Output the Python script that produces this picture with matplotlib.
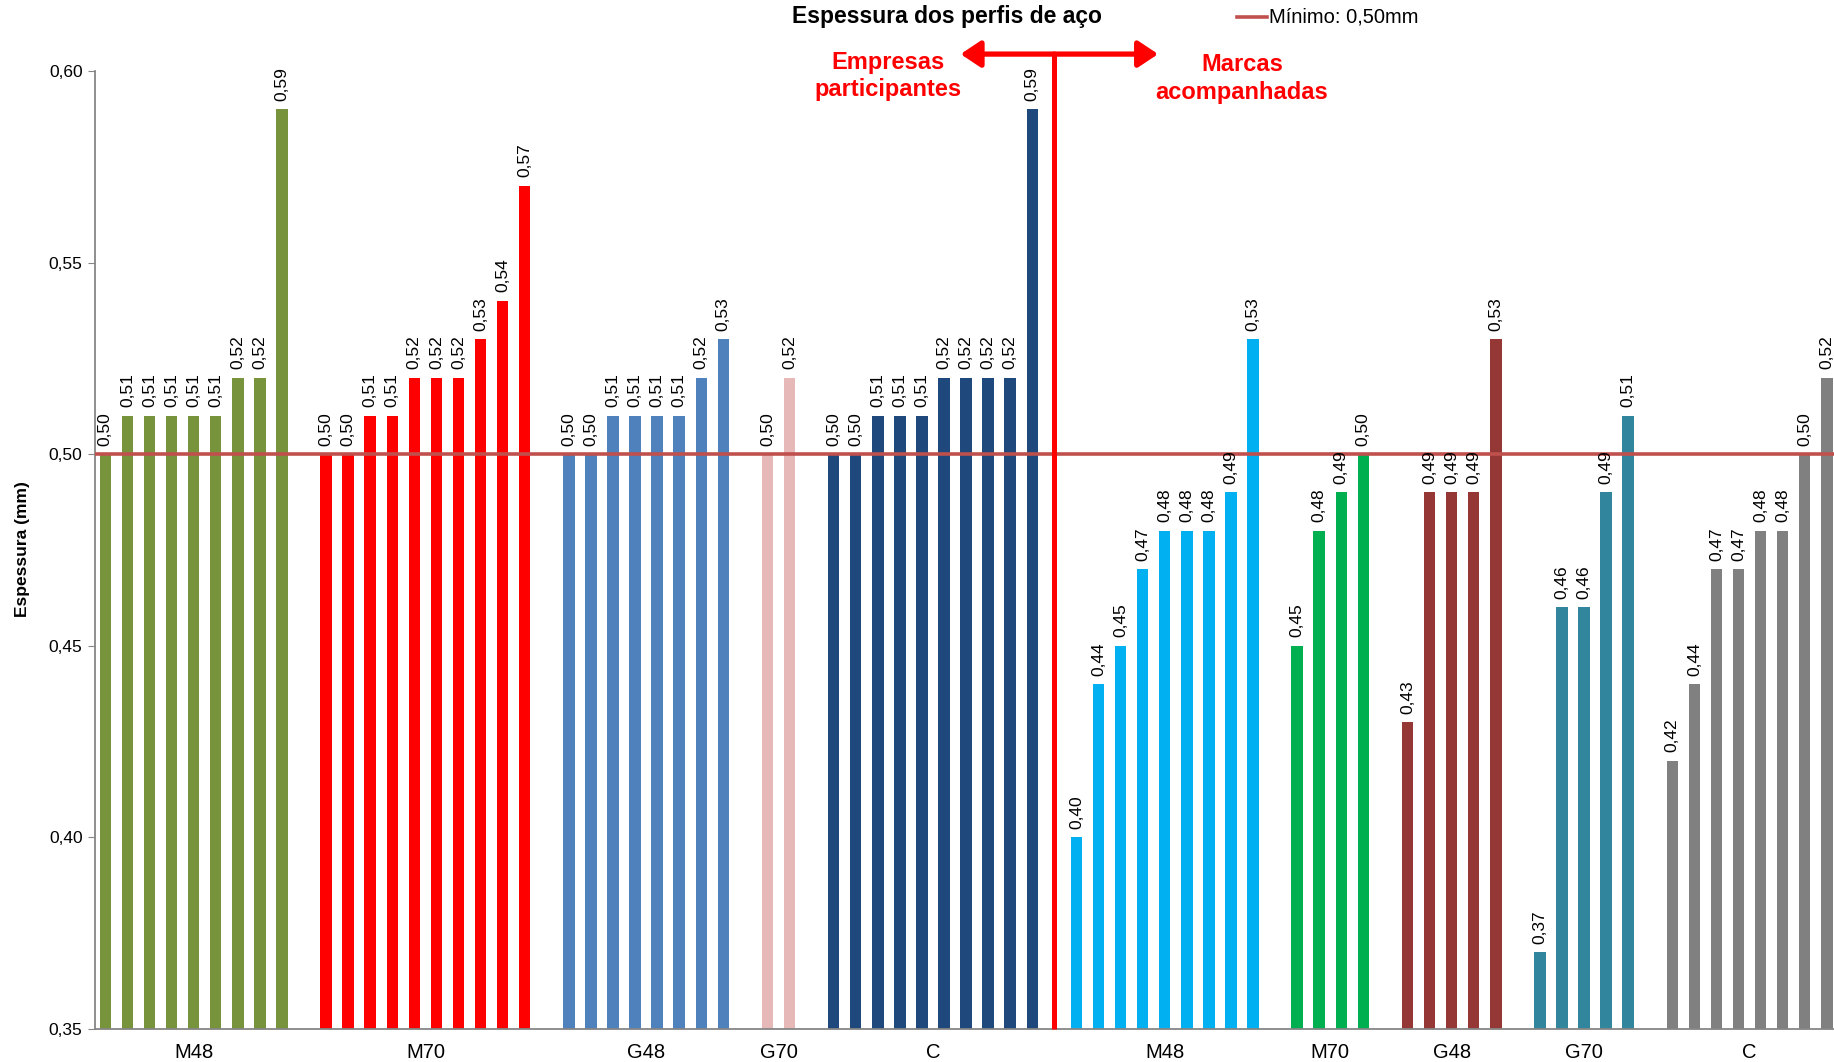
import matplotlib.pyplot as plt
from matplotlib.ticker import FuncFormatter
from matplotlib.patches import FancyArrowPatch

plt.rcParams['font.family'] = ['Liberation Sans', 'DejaVu Sans']

# grupos: empresas participantes / marcas acompanhadas
group_names = ['M48', 'M70', 'G48', 'G70', 'C', 'M48', 'M70', 'G48', 'G70', 'C']
emp_m48 = [0.50, 0.51, 0.51, 0.51, 0.51, 0.51, 0.52, 0.52, 0.59]
emp_m70 = [0.50, 0.50, 0.51, 0.51, 0.52, 0.52, 0.52, 0.53, 0.54, 0.57]
emp_g48 = [0.50, 0.50, 0.51, 0.51, 0.51, 0.51, 0.52, 0.53]
emp_g70 = [0.50, 0.52]
emp_c = [0.50, 0.50, 0.51, 0.51, 0.51, 0.52, 0.52, 0.52, 0.52, 0.59]
mar_m48 = [0.40, 0.44, 0.45, 0.47, 0.48, 0.48, 0.48, 0.49, 0.53]
mar_m70 = [0.45, 0.48, 0.49, 0.50]
mar_g48 = [0.43, 0.49, 0.49, 0.49, 0.53]
mar_g70 = [0.37, 0.46, 0.46, 0.49, 0.51]
mar_c = [0.42, 0.44, 0.47, 0.47, 0.48, 0.48, 0.50, 0.52]
minimo = 0.50

groups = [emp_m48, emp_m70, emp_g48, emp_g70, emp_c,
          mar_m48, mar_m70, mar_g48, mar_g70, mar_c]
colors = ['#77933C', '#FF0000', '#4F81BD', '#E6B9B8', '#1F497D',
          '#00B0F0', '#00B050', '#953735', '#31859C', '#808080']

fig = plt.figure(figsize=(18.34, 10.62), dpi=100)
ax = fig.add_axes([0.0518, 0.0311, 0.9503, 0.9021])

pos = 0
centers = []
divider = None
for i, (vals, col) in enumerate(zip(groups, colors)):
    xs = list(range(pos, pos + len(vals)))
    ax.bar(xs, vals, width=0.52, color=col, zorder=2)
    for x, v in zip(xs, vals):
        ax.text(x, v + 0.0022, f'{v:.2f}'.replace('.', ','), rotation=90,
                ha='center', va='bottom', fontsize=12.5, color='black', zorder=6)
    centers.append((xs[0] + xs[-1]) / 2)
    pos = xs[-1] + 2
    if i == 4:
        divider = pos - 1

ax.set_ylim(0.35, 0.60)
ax.set_xlim(-0.47, 78.5)
ax.axhline(minimo, color='#C0504D', lw=2.6, zorder=3)

# divisor em T
top_y = 0.6044
ax.plot([divider, divider], [0.35, top_y], color='#FF0000', lw=3.6,
        clip_on=False, zorder=4, solid_capstyle='butt')
for tip in [38.75, 47.7]:
    ax.add_patch(FancyArrowPatch((divider, top_y), (tip, top_y),
                                 arrowstyle='-|>,head_length=0.75,head_width=0.5',
                                 mutation_scale=16, color='#FF0000', lw=3.8,
                                 clip_on=False, zorder=4, shrinkA=0, shrinkB=0))
ax.text(35.45, 0.5987, 'Empresas\nparticipantes', ha='center', va='center',
        color='#FF0000', fontsize=17, fontweight='bold', linespacing=1.25)
ax.text(51.5, 0.5980, 'Marcas\nacompanhadas', ha='center', va='center',
        color='#FF0000', fontsize=17, fontweight='bold', linespacing=1.25)

ax.set_xticks(centers)
ax.set_xticklabels(group_names, fontsize=14.5)
ax.tick_params(axis='x', length=0, pad=10)
ax.set_yticks([0.35, 0.40, 0.45, 0.50, 0.55, 0.60])
ax.yaxis.set_major_formatter(FuncFormatter(lambda v, p: f'{v:.2f}'.replace('.', ',')))
ax.tick_params(axis='y', labelsize=12.5, length=5, color='#868686', pad=4)

for s in ['top', 'right']:
    ax.spines[s].set_visible(False)
for s in ['left', 'bottom']:
    ax.spines[s].set_color('#868686')
    ax.spines[s].set_linewidth(1.3)

fig.text(0.0125, 0.483, 'Espessura (mm)', rotation=90, ha='center', va='center',
         fontsize=12.5, fontweight='bold')
fig.text(0.5165, 0.984, 'Espessura dos perfis de aço', ha='center', va='center',
         fontsize=16.5, fontweight='bold')

# legenda
fig.add_artist(plt.Line2D([1237 / 1834, 1267 / 1834], [0.984, 0.984],
                          color='#C0504D', lw=2.6))
fig.text(1269 / 1834, 0.984, 'Mínimo: 0,50mm', ha='left', va='center', fontsize=14.5)

plt.savefig('out.png')
